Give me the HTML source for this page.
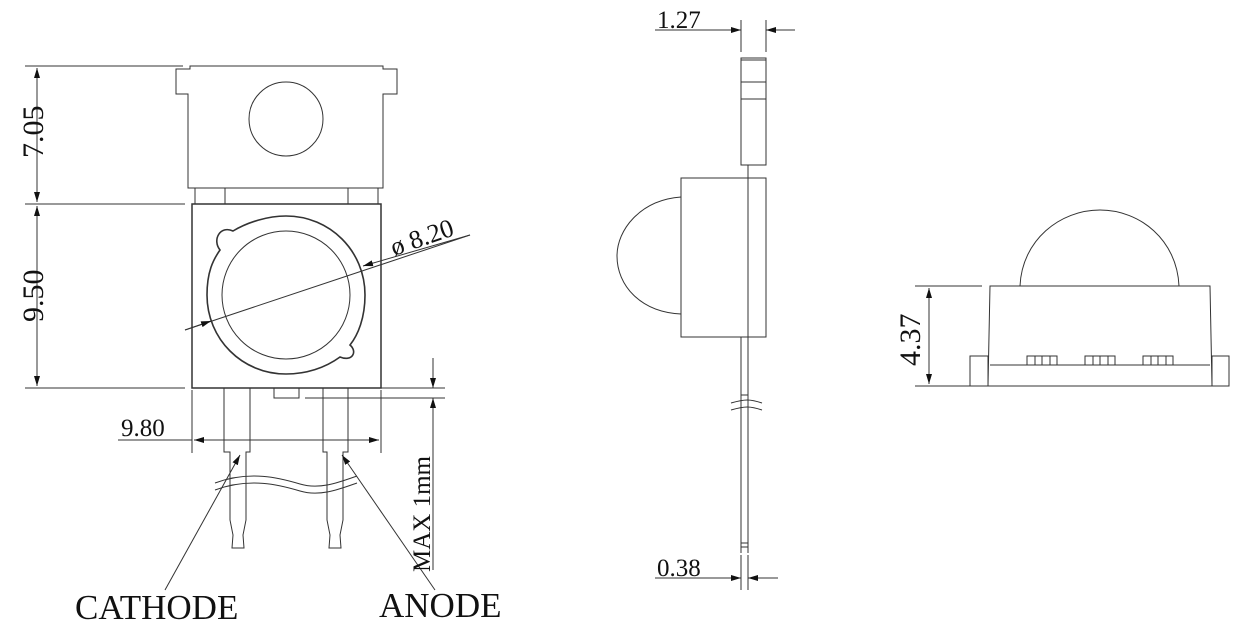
<!DOCTYPE html>
<html><head><style>
html,body{margin:0;padding:0;background:#fff;}
svg{display:block;}
text{font-family:"Liberation Serif",serif;fill:#111;}
</style></head><body>
<svg width="1238" height="631" viewBox="0 0 1238 631" xmlns="http://www.w3.org/2000/svg">
<defs>
<marker id="a" viewBox="0 0 10 6" refX="10" refY="3" markerWidth="10" markerHeight="6" orient="auto-start-reverse" markerUnits="userSpaceOnUse"><path d="M0,0 L10,3 L0,6 z" fill="#111"/></marker>
</defs>
<g fill="none" stroke="#333" stroke-width="1">
<path d="M190,66 H383 V69 H397 V94 H383 V188 H188 V94 H176 V69 H190 Z"/>
<circle cx="286" cy="119" r="37"/>
<rect x="195" y="188" width="30" height="16"/>
<rect x="348" y="188" width="30" height="16"/>
<rect x="192" y="204" width="189" height="184" stroke-width="1.5"/>
<path stroke-width="1.6" d="M233,231 C248,222 268,216 286,216 C330,216 365,251 365,295 C365,318 358,335 350,345 C358,352 352,362 340,357 C325,368 306,374 286,374 C242,374 207,339 207,295 C207,272 213,260 220,250 C212,240 220,225 233,231 Z"/>
<circle cx="286" cy="295" r="64"/>
<line x1="25" y1="66" x2="183" y2="66"/>
<line x1="25" y1="204" x2="185" y2="204"/>
<line x1="25" y1="388" x2="185" y2="388"/>
<line x1="37" y1="68" x2="37" y2="202" marker-start="url(#a)" marker-end="url(#a)"/>
<line x1="37" y1="206" x2="37" y2="386" marker-start="url(#a)" marker-end="url(#a)"/>
<line x1="185" y1="330" x2="470" y2="235"/>
<line x1="185" y1="330" x2="211" y2="321" marker-end="url(#a)"/>
<line x1="470" y1="235" x2="363" y2="266" marker-end="url(#a)"/>
<path d="M224,388 V452 H230 V520 L233,535 L232,548 H244 L243,535 L246,520 V452 H250 V388"/>
<path d="M323,388 V452 H327 V520 L330,535 L329,548 H341 L340,535 L343,520 V452 H348 V388"/>
<rect x="274" y="388" width="25" height="10"/>
<line x1="305" y1="398" x2="445" y2="398"/>
<line x1="381" y1="388" x2="445" y2="388"/>
<line x1="192" y1="390" x2="192" y2="453"/>
<line x1="381" y1="390" x2="381" y2="453"/>
<line x1="118" y1="440" x2="192" y2="440"/>
<line x1="194" y1="440" x2="379" y2="440" marker-start="url(#a)" marker-end="url(#a)"/>
<line x1="433" y1="358" x2="433" y2="388" marker-end="url(#a)"/>
<line x1="433" y1="570" x2="433" y2="398" marker-end="url(#a)"/>
<path d="M215,483 C250,470 280,478 300,484 C320,490 340,482 357,476"/>
<path d="M215,490 C250,477 280,485 300,491 C320,497 340,489 357,483" />
<line x1="165" y1="590" x2="240" y2="455" marker-end="url(#a)"/>
<line x1="435" y1="590" x2="342" y2="455" marker-end="url(#a)"/>
<rect x="741" y="58" width="25" height="107"/>
<line x1="741" y1="60" x2="766" y2="60"/>
<line x1="741" y1="82" x2="766" y2="82"/>
<line x1="741" y1="99" x2="766" y2="99"/>
<path d="M681,178 L766,178 V337 L681,337 Z"/>
<line x1="748" y1="165" x2="748" y2="553"/>
<line x1="741" y1="337" x2="741" y2="553"/>
<path d="M681,197 C640,200 617,230 617,256 C617,285 640,312 681,314"/>
<line x1="741" y1="395" x2="748" y2="395"/>
<path d="M731,403 C745,399 750,399 762,403"/>
<path d="M731,410 C745,406 750,406 762,410"/>
<line x1="741" y1="543" x2="748" y2="543"/>
<line x1="741" y1="547" x2="748" y2="547"/>
<line x1="741" y1="20" x2="741" y2="52"/>
<line x1="766" y1="20" x2="766" y2="52"/>
<line x1="655" y1="30" x2="741" y2="30" marker-end="url(#a)"/>
<line x1="795" y1="30" x2="766" y2="30" marker-end="url(#a)"/>
<line x1="741" y1="555" x2="741" y2="590"/>
<line x1="748" y1="555" x2="748" y2="590"/>
<line x1="655" y1="578" x2="741" y2="578" marker-end="url(#a)"/>
<line x1="778" y1="578" x2="748" y2="578" marker-end="url(#a)"/>
<path d="M1020,286 C1022,240 1060,210 1100,210 C1140,210 1177,240 1179,286"/>
<path d="M990,286 H1210 L1212,386 H988 Z"/>
<line x1="990" y1="365" x2="1210" y2="365"/>
<rect x="970" y="356" width="18" height="30"/>
<rect x="1212" y="356" width="17" height="30"/>
<g>
<rect x="1027" y="356" width="30" height="9"/><line x1="1035" y1="356" x2="1035" y2="365"/><line x1="1042" y1="356" x2="1042" y2="365"/><line x1="1050" y1="356" x2="1050" y2="365"/>
<rect x="1085" y="356" width="30" height="9"/><line x1="1093" y1="356" x2="1093" y2="365"/><line x1="1100" y1="356" x2="1100" y2="365"/><line x1="1108" y1="356" x2="1108" y2="365"/>
<rect x="1143" y="356" width="30" height="9"/><line x1="1151" y1="356" x2="1151" y2="365"/><line x1="1158" y1="356" x2="1158" y2="365"/><line x1="1166" y1="356" x2="1166" y2="365"/>
</g>
<line x1="915" y1="286" x2="982" y2="286"/>
<line x1="915" y1="386" x2="1000" y2="386"/>
<line x1="929" y1="288" x2="929" y2="384" marker-start="url(#a)" marker-end="url(#a)"/>
</g>
<text x="0" y="0" font-size="30" transform="translate(43,158) rotate(-90)">7.05</text>
<text x="0" y="0" font-size="30" transform="translate(43,322) rotate(-90)">9.50</text>
<text x="0" y="0" font-size="26" transform="translate(394,256) rotate(-19)">ø 8.20</text>
<text x="121" y="436" font-size="25">9.80</text>
<text x="0" y="0" font-size="25" transform="translate(430,572) rotate(-90)">MAX 1mm</text>
<text x="75" y="619" font-size="35">CATHODE</text>
<text x="379" y="617" font-size="35">ANODE</text>
<text x="657" y="28" font-size="25">1.27</text>
<text x="657" y="576" font-size="25">0.38</text>
<text x="0" y="0" font-size="30" transform="translate(920,366) rotate(-90)">4.37</text>
</svg>
</body></html>
